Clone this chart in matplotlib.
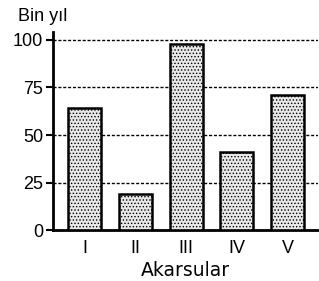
import matplotlib
matplotlib.use("Agg")
import matplotlib.pyplot as plt

categories = ["I", "II", "III", "IV", "V"]
values = [64, 19, 98, 41, 71]
yticks = [0, 25, 50, 75, 100]

plt.rcParams['font.family'] = ['Liberation Sans', 'DejaVu Sans']
plt.rcParams['hatch.color'] = '#8f8f8f'
plt.rcParams['hatch.linewidth'] = 0.6

fig = plt.figure(figsize=(3.19, 2.81), dpi=100)
ax = fig.add_axes([0.166, 0.181, 0.831, 0.704])

x = list(range(len(categories)))
ax.bar(x, values, width=0.65, facecolor='#e8e8e8', edgecolor='black',
       linewidth=1.8, hatch='.....', zorder=3)

for y in yticks[1:]:
    ax.axhline(y, color='black', linestyle=(0, (2.2, 1.3)), linewidth=1.0, zorder=1)

ax.set_xlim(-0.63, 4.6)
ax.set_ylim(0, 104)
ax.set_yticks(yticks)
ax.set_xticks(x)
ax.set_xticklabels(categories, fontsize=13, fontweight='medium')
for lbl in ax.get_yticklabels():
    lbl.set_fontweight('medium')
ax.tick_params(axis='y', labelsize=13, length=5, width=1.5, pad=2)
ax.tick_params(axis='x', length=0, pad=7)
for s in ['top', 'right']:
    ax.spines[s].set_visible(False)
ax.spines['left'].set_linewidth(2)
ax.spines['bottom'].set_linewidth(2)

ax.set_xlabel("Akarsular", fontsize=13.5, labelpad=3, family='DejaVu Sans')
fig.text(0.057, 0.94, "Bin yıl", fontsize=13, ha='left', va='center')

fig.savefig("out.png", dpi=100)
